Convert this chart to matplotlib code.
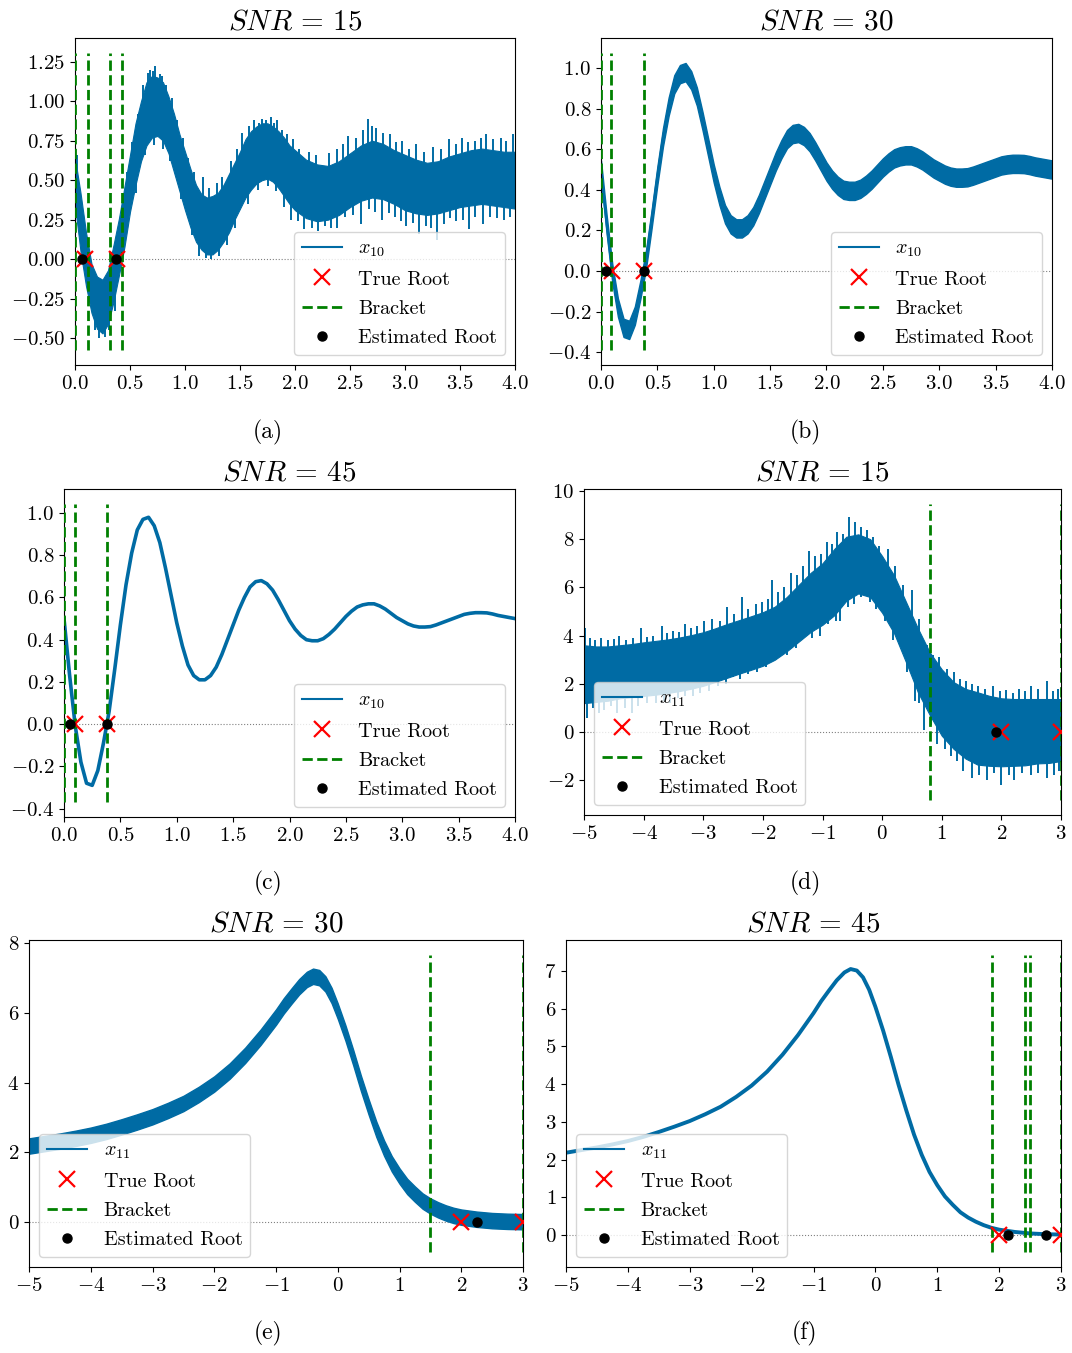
import numpy as np
import matplotlib
matplotlib.use('Agg')
import matplotlib.pyplot as plt
from matplotlib.lines import Line2D

plt.rcParams.update({
    'font.family': 'cmr10',
    'mathtext.fontset': 'cm',
    'axes.formatter.use_mathtext': True,
    'axes.unicode_minus': True,
})

BLUE = '#006BA4'

# --- x10: damped oscillation, sampled every 0.05 on [0, 4]
x10_t = [0.00, 0.05, 0.10, 0.15, 0.20, 0.25, 0.30, 0.35, 0.40, 0.45,
         0.50, 0.55, 0.60, 0.65, 0.70, 0.75, 0.80, 0.85, 0.90, 0.95,
         1.00, 1.05, 1.10, 1.15, 1.20, 1.25, 1.30, 1.35, 1.40, 1.45,
         1.50, 1.55, 1.60, 1.65, 1.70, 1.75, 1.80, 1.85, 1.90, 1.95,
         2.00, 2.05, 2.10, 2.15, 2.20, 2.25, 2.30, 2.35, 2.40, 2.45,
         2.50, 2.55, 2.60, 2.65, 2.70, 2.75, 2.80, 2.85, 2.90, 2.95,
         3.00, 3.05, 3.10, 3.15, 3.20, 3.25, 3.30, 3.35, 3.40, 3.45,
         3.50, 3.55, 3.60, 3.65, 3.70, 3.75, 3.80, 3.85, 3.90, 3.95, 4.00]
x10_val = [0.50, 0.23, -0.01, -0.18, -0.28, -0.29, -0.22, -0.09, 0.06, 0.26,
           0.47, 0.66, 0.81, 0.92, 0.97, 0.98, 0.94, 0.86, 0.74, 0.61,
           0.48, 0.37, 0.28, 0.23, 0.21, 0.21, 0.23, 0.27, 0.33, 0.40,
           0.47, 0.54, 0.60, 0.65, 0.675, 0.68, 0.665, 0.635, 0.59, 0.54,
           0.49, 0.45, 0.42, 0.40, 0.395, 0.395, 0.405, 0.425, 0.45, 0.48,
           0.51, 0.535, 0.555, 0.565, 0.57, 0.57, 0.56, 0.545, 0.525, 0.505,
           0.49, 0.475, 0.465, 0.46, 0.46, 0.462, 0.47, 0.48, 0.49, 0.50,
           0.51, 0.52, 0.525, 0.528, 0.528, 0.527, 0.522, 0.515, 0.51, 0.505, 0.50]

# --- x10 at SNR=15: noise envelope + spikes
a_t = [0.00, 0.05, 0.10, 0.15, 0.20, 0.25, 0.30, 0.35, 0.40, 0.45, 0.50,
       0.55, 0.60, 0.65, 0.70, 0.75, 0.80, 0.85, 0.90, 0.95, 1.00, 1.05,
       1.10, 1.15, 1.20, 1.25, 1.30, 1.35, 1.40, 1.45, 1.50, 1.55, 1.60,
       1.65, 1.70, 1.75, 1.80, 1.85, 1.90, 1.95, 2.00, 2.10, 2.20, 2.30,
       2.40, 2.50, 2.60, 2.70, 2.80, 2.90, 3.00, 3.10, 3.20, 3.30, 3.40,
       3.50, 3.60, 3.70, 3.80, 3.90, 4.00]
a_hi = [0.64, 0.42, 0.17, -0.03, -0.11, -0.13, -0.07, 0.09, 0.26, 0.46, 0.66,
        0.86, 1.00, 1.12, 1.16, 1.15, 1.12, 1.03, 0.92, 0.79, 0.68, 0.57,
        0.47, 0.41, 0.39, 0.40, 0.42, 0.47, 0.54, 0.61, 0.68, 0.76, 0.81,
        0.84, 0.86, 0.86, 0.84, 0.81, 0.77, 0.72, 0.69, 0.63, 0.60, 0.59,
        0.62, 0.67, 0.72, 0.75, 0.73, 0.69, 0.66, 0.63, 0.61, 0.62, 0.65,
        0.67, 0.69, 0.70, 0.69, 0.68, 0.68]
a_lo = [0.34, 0.05, -0.17, -0.34, -0.44, -0.47, -0.41, -0.27, -0.10, 0.08, 0.30,
        0.47, 0.62, 0.72, 0.77, 0.78, 0.75, 0.67, 0.55, 0.43, 0.31, 0.20,
        0.11, 0.06, 0.03, 0.03, 0.06, 0.11, 0.17, 0.25, 0.32, 0.39, 0.44,
        0.48, 0.50, 0.51, 0.49, 0.45, 0.40, 0.35, 0.31, 0.26, 0.24, 0.25,
        0.28, 0.33, 0.37, 0.39, 0.38, 0.35, 0.31, 0.29, 0.28, 0.29, 0.31,
        0.33, 0.34, 0.35, 0.34, 0.33, 0.32]
a_spk_x = [0.02, 0.47, 0.52, 0.57, 0.62, 0.66, 0.68, 0.71, 0.73, 0.77, 0.79,
           0.83, 0.88, 0.93, 0.98, 1.03, 1.08, 1.16, 1.22, 1.29, 1.34, 1.42,
           1.47, 1.52, 1.58, 1.63, 1.67, 1.70, 1.74, 1.78, 1.81, 1.84, 1.88,
           1.93, 1.98, 2.04, 2.13, 2.19, 2.31, 2.38, 2.44, 2.48, 2.55, 2.62,
           2.66, 2.70, 2.74, 2.80, 2.86, 2.92, 2.97, 3.04, 3.10, 3.17, 3.25,
           3.33, 3.40, 3.46, 3.52, 3.57, 3.64, 3.69, 3.74, 3.80, 3.87, 3.92, 3.98,
           0.18, 0.22, 0.27, 0.31, 0.36, 0.55, 0.64, 0.72, 0.80, 0.86, 0.96,
           1.06, 1.13, 1.19, 1.24, 1.31, 1.38, 1.45, 1.57, 1.66, 1.75, 1.83,
           1.90, 1.96, 2.03, 2.08, 2.15, 2.21, 2.27, 2.33, 2.38, 2.45, 2.53,
           2.60, 2.67, 2.73, 2.79, 2.85, 2.91, 2.96, 3.01, 3.07, 3.13, 3.19,
           3.24, 3.29, 3.35, 3.41, 3.46, 3.53, 3.58, 3.64, 3.71, 3.77, 3.84,
           3.90, 3.95]
a_spk_y = [0.66, 0.55, 0.74, 0.92, 1.10, 1.18, 1.20, 1.19, 1.22, 1.17, 1.16,
           1.10, 1.02, 0.88, 0.77, 0.64, 0.55, 0.52, 0.45, 0.48, 0.52, 0.62,
           0.70, 0.80, 0.84, 0.88, 0.86, 0.89, 0.88, 0.90, 0.86, 0.88, 0.82,
           0.79, 0.76, 0.70, 0.68, 0.66, 0.67, 0.70, 0.73, 0.78, 0.77, 0.82,
           0.89, 0.84, 0.83, 0.80, 0.79, 0.74, 0.75, 0.70, 0.73, 0.68, 0.71,
           0.70, 0.76, 0.73, 0.77, 0.74, 0.75, 0.77, 0.79, 0.76, 0.77, 0.75, 0.79,
           -0.45, -0.50, -0.49, -0.45, -0.33, 0.42, 0.66, 0.72, 0.70, 0.62, 0.38,
           0.15, 0.02, 0.01, 0.00, 0.02, 0.09, 0.20, 0.35, 0.44, 0.46, 0.43,
           0.33, 0.25, 0.24, 0.19, 0.20, 0.18, 0.21, 0.20, 0.20, 0.27, 0.28,
           0.22, 0.32, 0.30, 0.25, 0.29, 0.27, 0.24, 0.21, 0.23, 0.16, 0.21,
           0.20, 0.12, 0.22, 0.26, 0.24, 0.25, 0.19, 0.27, 0.22, 0.27, 0.26,
           0.25, 0.27]
b_noise = 0.045

# --- x11: skewed bump on [-5, 3]
x11_s = [-5.00, -4.75, -4.50, -4.25, -4.00, -3.75, -3.50, -3.25, -3.00, -2.75,
         -2.50, -2.25, -2.00, -1.75, -1.50, -1.25, -1.000, -0.875, -0.750,
         -0.625, -0.500, -0.400, -0.300, -0.200, -0.100, 0.000, 0.125, 0.250,
         0.375, 0.500, 0.625, 0.750, 0.875, 1.000, 1.125, 1.250, 1.375, 1.500,
         1.625, 1.750, 1.875, 2.00, 2.25, 2.50, 2.75, 3.00]
x11_val = [2.18, 2.25, 2.32, 2.40, 2.49, 2.60, 2.73, 2.87, 3.02, 3.20,
           3.40, 3.66, 3.96, 4.33, 4.78, 5.30, 5.88, 6.20, 6.48,
           6.75, 6.96, 7.05, 7.01, 6.83, 6.50, 6.05, 5.42, 4.72,
           3.98, 3.30, 2.66, 2.12, 1.67, 1.32, 1.02, 0.80, 0.60, 0.46,
           0.35, 0.26, 0.19, 0.14, 0.08, 0.04, 0.02, 0.01]

# --- x11 at SNR=15: noise envelope + spikes
d_s = [-5.0, -4.8, -4.6, -4.4, -4.2, -4.0, -3.8, -3.6, -3.4, -3.2, -3.0,
       -2.8, -2.6, -2.4, -2.2, -2.0, -1.8, -1.6, -1.4, -1.2, -1.0, -0.8,
       -0.6, -0.4, -0.2, 0.0, 0.2, 0.4, 0.6, 0.8, 1.0, 1.2, 1.4, 1.6, 1.8,
       2.0, 2.2, 2.4, 2.6, 2.8, 3.0]
d_hi = [3.60, 3.55, 3.55, 3.60, 3.65, 3.72, 3.78, 3.84, 3.92, 4.02, 4.14,
        4.30, 4.48, 4.64, 4.80, 4.97, 5.20, 5.60, 6.10, 6.60, 7.00, 7.60,
        8.10, 8.20, 8.00, 7.30, 6.50, 5.40, 4.30, 3.30, 2.60, 2.07, 1.79,
        1.65, 1.50, 1.40, 1.37, 1.37, 1.37, 1.37, 1.37]
d_lo = [1.20, 1.25, 1.30, 1.40, 1.45, 1.50, 1.55, 1.62, 1.70, 1.80, 1.92,
        2.08, 2.25, 2.42, 2.58, 2.75, 3.00, 3.35, 3.75, 4.15, 4.45, 4.85,
        5.45, 5.75, 5.60, 4.95, 4.10, 2.90, 1.65, 0.70, -0.15, -0.70, -1.10,
        -1.35, -1.40, -1.42, -1.40, -1.38, -1.30, -1.28, -1.20]
d_spk_x = [-4.98, -4.90, -4.82, -4.72, -4.60, -4.50, -4.42, -4.30, -4.18, -4.05,
           -3.95, -3.85, -3.70, -3.60, -3.50, -3.40, -3.30, -3.20, -3.10, -2.98,
           -2.85, -2.72, -2.60, -2.48, -2.35, -2.25, -2.12, -2.02, -1.92, -1.85,
           -1.75, -1.65, -1.52, -1.42, -1.32, -1.22, -1.12, -1.02, -0.92, -0.84,
           -0.76, -0.66, -0.55, -0.45, -0.36, -0.26, -0.16, -0.05, 0.10, 0.22,
           0.35, 0.50, 0.62, 0.76, 0.85, 0.95, 1.08, 1.20, 1.30, 1.40, 1.50,
           1.60, 1.72, 1.86, 1.98, 2.08, 2.20, 2.30, 2.40, 2.50, 2.62, 2.76,
           2.86, 2.95,
           -4.95, -4.85, -4.75, -4.66, -4.55, -4.45, -4.32, -4.20, -4.10, -3.95,
           -3.80, -3.66, -3.55, -3.42, -3.30, -3.18, -3.05, -2.90, -2.75, -2.62,
           -2.50, -2.38, -2.25, -2.10, -1.95, -1.75, -1.60, -1.45, -1.30, -1.18,
           -1.05, -0.90, -0.78, -0.70, -0.58, -0.48, -0.36, -0.20, -0.10, 0.05,
           0.18, 0.30, 0.42, 0.55, 0.62, 0.70, 0.82, 0.92, 1.05, 1.15, 1.25,
           1.35, 1.50, 1.62, 1.76, 1.88, 2.00, 2.12, 2.22, 2.35, 2.50, 2.62,
           2.76, 2.88, 2.97]
d_spk_y = [4.3, 3.9, 3.8, 3.9, 3.8, 3.85, 4.0, 3.8, 3.9, 4.3,
           3.95, 4.0, 4.4, 4.1, 4.2, 4.15, 4.5, 4.3, 4.4, 4.6,
           4.7, 4.6, 5.2, 4.9, 5.6, 5.1, 5.3, 5.4, 5.5, 6.3,
           5.8, 6.0, 6.6, 6.5, 6.9, 7.5, 7.3, 7.4, 7.9, 7.8,
           8.3, 8.2, 8.9, 8.7, 8.5, 8.4, 8.1, 7.7, 7.6, 6.9,
           6.1, 5.9, 4.7, 3.6, 3.2, 3.1, 2.6, 2.5, 2.2, 2.1, 2.0,
           1.9, 1.8, 1.9, 1.7, 1.75, 1.6, 1.8, 1.7, 1.9, 1.8, 2.1,
           1.7, 1.8,
           0.6, 1.0, 0.8, 0.9, 1.1, 0.8, 1.0, 0.8, 1.1, 1.2,
           1.2, 1.3, 1.2, 1.4, 1.5, 1.5, 1.6, 1.7, 1.9, 2.0,
           2.3, 2.2, 2.4, 2.5, 2.7, 3.2, 3.2, 3.5, 4.1, 3.9,
           4.0, 4.5, 4.6, 4.6, 5.2, 5.3, 5.6, 5.4, 5.1, 4.6,
           3.8, 3.6, 2.5, 1.3, 1.2, 0.1, 0.3, -0.5, -0.7, -1.0, -1.2,
           -1.6, -1.9, -1.8, -2.0, -1.7, -2.2, -1.8, -2.0, -1.7, -1.8, -1.7,
           -1.9, -1.8, -1.6]
e_noise = 0.22

# --- roots and brackets
x10_true = [0.095, 0.378]
x11_true = [2.0, 3.0]
brackets = {'a': [0.0, 0.12, 0.32, 0.43], 'b': [0.0, 0.093, 0.378],
            'c': [0.0, 0.10, 0.38], 'd': [0.8, 3.0], 'e': [1.5, 3.0],
            'f': [1.88, 2.42, 2.50, 3.0]}
estimated = {'a': [0.06, 0.375], 'b': [0.047, 0.378], 'c': [0.05, 0.38],
             'd': [1.91], 'e': [2.25], 'f': [2.15, 2.76]}

x10_ticks = [0.0, 0.5, 1.0, 1.5, 2.0, 2.5, 3.0, 3.5, 4.0]
x11_ticks = [-5, -4, -3, -2, -1, 0, 1, 2, 3]

W, H = 1072, 1353
fig = plt.figure(figsize=(W / 100, H / 100), dpi=100)


def px_axes(l, t, r, b):
    return fig.add_axes([l / W, 1 - b / H, (r - l) / W, (b - t) / H])


def noisy_band(ax, x, lo, hi, spk_x, spk_y):
    ax.fill_between(x, lo, hi, color=BLUE, lw=0.8, zorder=2)
    mid = (np.asarray(lo) + np.asarray(hi)) / 2
    ax.vlines(spk_x, np.interp(spk_x, x, mid), spk_y, color=BLUE, lw=1.4, zorder=2)


def decorate(ax, key, true_roots, title, xlim, ylim, xticks, yticks, sub, loc):
    ax.axhline(0, color='gray', ls=':', lw=0.8, zorder=1)
    for b in brackets[key]:
        # bracket lines span the data range before the 5% margins
        ax.axvline(b, ymin=0.05 / 1.1, ymax=1.05 / 1.1, color='green',
                   ls='--', lw=2, zorder=3)
    ax.plot(true_roots, np.zeros(len(true_roots)), 'x', color='red',
            ms=12, mew=1.6, zorder=4)
    est = estimated[key]
    ax.plot(est, np.zeros(len(est)), 'o', color='black', ms=6.5, zorder=5)
    ax.set_xlim(xlim)
    ax.set_ylim(ylim)
    ax.set_xticks(xticks)
    ax.set_yticks(yticks)
    ax.tick_params(labelsize=15)
    ax.set_title(title, fontsize=21, pad=6)
    handles = [Line2D([], [], color=BLUE, lw=1.5),
               Line2D([], [], ls='none', marker='x', color='red', ms=12, mew=1.6),
               Line2D([], [], color='green', ls='--', lw=2),
               Line2D([], [], ls='none', marker='o', color='black', ms=6.5)]
    labels = [sub, 'True Root', 'Bracket', 'Estimated Root']
    ax.legend(handles, labels, loc=loc, fontsize=14.5, labelspacing=0.55)


def snr_title(v):
    return r'$SNR\,=\,%d$' % v


# (a) x10, SNR = 15
ax = px_axes(75, 38, 515, 365)
noisy_band(ax, a_t, a_lo, a_hi, a_spk_x, a_spk_y)
decorate(ax, 'a', x10_true, snr_title(15), (0, 4), (-0.67, 1.40), x10_ticks,
         [-0.5, -0.25, 0.0, 0.25, 0.5, 0.75, 1.0, 1.25], r'$x_{10}$', 'lower right')

# (b) x10, SNR = 30
ax = px_axes(601, 38, 1052, 365)
c = np.array(x10_val)
ax.fill_between(x10_t, c - b_noise, c + b_noise, color=BLUE, lw=1, zorder=2)
ax.plot(x10_t, c, color=BLUE, lw=1.5, zorder=2)
decorate(ax, 'b', x10_true, snr_title(30), (0, 4), (-0.463, 1.148), x10_ticks,
         [-0.4, -0.2, 0.0, 0.2, 0.4, 0.6, 0.8, 1.0], r'$x_{10}$', 'lower right')

# (c) x10, SNR = 45
ax = px_axes(64, 489, 515, 817)
ax.plot(x10_t, x10_val, color=BLUE, lw=2.6, zorder=2)
decorate(ax, 'c', x10_true, snr_title(45), (0, 4), (-0.44, 1.114), x10_ticks,
         [-0.4, -0.2, 0.0, 0.2, 0.4, 0.6, 0.8, 1.0], r'$x_{10}$', 'lower right')

# (d) x11, SNR = 15
ax = px_axes(584, 489, 1061, 815)
noisy_band(ax, d_s, d_lo, d_hi, d_spk_x, d_spk_y)
decorate(ax, 'd', x11_true, snr_title(15), (-5, 3), (-3.44, 10.08), x11_ticks,
         [-2, 0, 2, 4, 6, 8, 10], r'$x_{11}$', 'lower left')

# (e) x11, SNR = 30
ax = px_axes(29, 940, 523, 1267)
c = np.array(x11_val)
ax.fill_between(x11_s, c - e_noise, c + e_noise, color=BLUE, lw=1, zorder=2)
ax.plot(x11_s, c, color=BLUE, lw=1.5, zorder=2)
decorate(ax, 'e', x11_true, snr_title(30), (-5, 3), (-1.29, 8.09), x11_ticks,
         [0, 2, 4, 6, 8], r'$x_{11}$', 'lower left')

# (f) x11, SNR = 45
ax = px_axes(566, 940, 1061, 1267)
ax.plot(x11_s, x11_val, color=BLUE, lw=2.8, zorder=2)
decorate(ax, 'f', x11_true, snr_title(45), (-5, 3), (-0.85, 7.82), x11_ticks,
         [0, 1, 2, 3, 4, 5, 6, 7], r'$x_{11}$', 'lower left')

# sub-figure captions
for lab, (cx, cy) in zip('abcdef', [(268, 432), (805, 432), (268, 883),
                                     (805, 883), (268, 1333), (805, 1333)]):
    fig.text(cx / W, 1 - cy / H, f'({lab})', ha='center', va='center', fontsize=17)

fig.savefig('out.png', dpi=100)
